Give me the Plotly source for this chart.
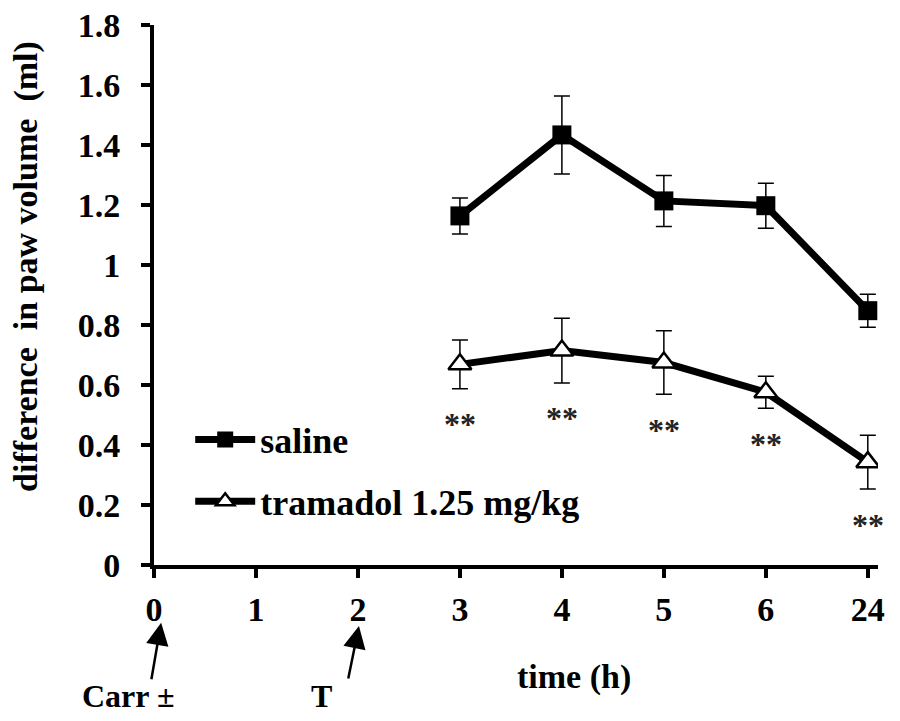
import plotly.graph_objects as go

# =========================
# DADES
# =========================
time_labels = ["0", "1", "2", "3", "4", "5", "6", "24"]
time_points = ["3", "4", "5", "6", "24"]

saline = [1.164, 1.434, 1.214, 1.198, 0.848]
saline_err = [0.06, 0.13, 0.085, 0.075, 0.055]

tramadol = [0.669, 0.715, 0.675, 0.576, 0.343]
tramadol_err = [0.081, 0.108, 0.106, 0.053, 0.09]

stars = ["**", "**", "**", "**", "**"]

FONT = "Liberation Serif, Times New Roman, serif"
BOLD = dict(family=FONT, color="black", weight="bold")
XMAX = 7.1

# =========================
# GRÀFIC
# =========================
fig = go.Figure()

fig.add_trace(go.Scatter(
    x=time_points, y=saline, name="saline", mode="lines+markers",
    line=dict(color="black", width=7),
    marker=dict(symbol="square", size=19, color="black"),
    error_y=dict(type="data", array=saline_err, color="black", thickness=1.5, width=8),
    legendgroup="a",
))

fig.add_trace(go.Scatter(
    x=time_points, y=tramadol, name="tramadol 1.25 mg/kg", mode="lines+markers",
    line=dict(color="black", width=7),
    marker=dict(symbol="triangle-up", size=20, color="white",
                line=dict(color="black", width=2.5)),
    error_y=dict(type="data", array=tramadol_err, color="black", thickness=1.5, width=8),
    legendgroup="b",
))

# asteriscs de significació sota les barres d'error
# (posició per índex de categoria: "24" es llegiria com a índex 24)
for t, v, e, s in zip(time_points, tramadol, tramadol_err, stars):
    fig.add_annotation(x=time_labels.index(t), y=v - e - 0.105, text=s,
                       showarrow=False, yshift=-4, xanchor="center", yanchor="middle",
                       font=dict(family=FONT, size=32, color="#222"))

# fletxes Carr / T
fig.add_annotation(x=0.07, y=-0.107, xref="x", yref="paper", ax=-10, ay=58,
                   text="", showarrow=True, arrowhead=2, arrowsize=1.8,
                   arrowwidth=2.5, arrowcolor="black")
fig.add_annotation(x=2.01, y=-0.113, xref="x", yref="paper", ax=-11, ay=54,
                   text="", showarrow=True, arrowhead=2, arrowsize=1.8,
                   arrowwidth=2.5, arrowcolor="black")

for txt, xv, yv, sz in [("Carr ±", -0.25, -0.242, 32),
                        ("T", 1.64, -0.242, 32),
                        ("time (h)", 4.12, -0.207, 34)]:
    fig.add_annotation(x=xv / XMAX, y=yv, xref="paper", yref="paper", text=txt,
                       showarrow=False, xanchor="center", yanchor="middle",
                       font=dict(BOLD, size=sz))

# títol de l'eix y
fig.add_annotation(x=-0.176, y=0.553, xref="paper", yref="paper",
                   text="difference  in paw volume  (ml)", textangle=-90,
                   showarrow=False, xanchor="center", yanchor="middle",
                   font=dict(BOLD, size=34))

fig.update_layout(
    width=900, height=721,
    margin=dict(l=146, r=30, t=17, b=164),
    plot_bgcolor="white", paper_bgcolor="white",
    font=BOLD,
    showlegend=True,
    legend=dict(x=0.05, y=0.288, xanchor="left", yanchor="top",
                font=dict(BOLD, size=36),
                bgcolor="rgba(0,0,0,0)", traceorder="grouped", tracegroupgap=12,
                itemwidth=60),
)

fig.update_xaxes(
    type="category", categoryorder="array", categoryarray=time_labels,
    tickvals=time_labels, range=[0, XMAX], automargin=False,
    showline=True, linecolor="black", linewidth=4, showgrid=False,
    ticks="outside", ticklen=9, tickwidth=4, tickcolor="black",
    ticklabelstandoff=2, ticklabeloverflow="allow",
    tickfont=dict(BOLD, size=34),
)
fig.update_yaxes(
    range=[0, 1.8005], tickvals=[0, 0.2, 0.4, 0.6, 0.8, 1, 1.2, 1.4, 1.6, 1.8],
    tickformat="~g", automargin=False,
    showline=True, linecolor="black", linewidth=4, showgrid=False, zeroline=False,
    ticks="outside", ticklen=9, tickwidth=4, tickcolor="black",
    ticklabelstandoff=14, ticklabeloverflow="allow",
    tickfont=dict(BOLD, size=34),
)

fig.write_html("out.html")
print("✅ gràfic exportat")
